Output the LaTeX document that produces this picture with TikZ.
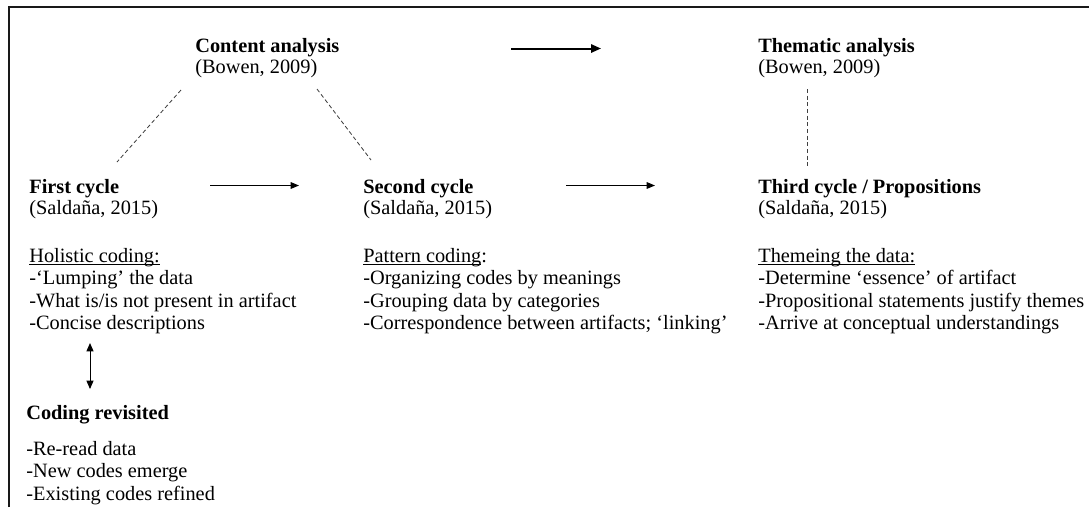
\documentclass[tikz,border=0pt]{standalone}
\usepackage{fontspec}
\setmainfont{Liberation Serif}
\usetikzlibrary{arrows.meta}
\newcommand{\lineunder}[1]{\setbox0=\hbox{#1}\rlap{\rule[-1.6pt]{\wd0}{0.5pt}}\box0}
\begin{document}
\begin{tikzpicture}[x=0.6pt,y=-0.6pt,
  txt/.style={anchor=base west, inner sep=0pt, font=\fontsize{12.2}{14}\selectfont},
  hd/.style={txt, font=\fontsize{12.2}{14}\selectfont\bfseries},
  frameline/.style={line width=1.2pt, draw=black!90},
  dashlink/.style={line width=0.5pt, draw=black!75, dash pattern=on 2.4pt off 1.6pt},
  flow/.style={line width=0.6pt, -{Triangle[length=5pt,width=4pt]}},
  bigflow/.style={line width=1.2pt, -{Triangle[length=6pt,width=5pt]}},
  twoway/.style={line width=0.6pt, {Triangle[length=5pt,width=4.2pt]}-{Triangle[length=5pt,width=4.2pt]}},
]
\useasboundingbox (0,0) rectangle (1089,507);
% frame (cut off at right and bottom)
\coordinate (fbl) at (9,507);
\coordinate (ftl) at (9,7);
\coordinate (ftr) at (1089,7);
\draw[frameline] (fbl) -- (ftl) -- (ftr);

% top row
\node[hd]  (ca)  at (195,52) {Content analysis};
\node[txt] (cab) at (195,73) {(Bowen, 2009)};
\node[hd]  (ta)  at (758,52) {Thematic analysis};
\node[txt] (tab) at (758,73) {(Bowen, 2009)};

% cycles
\node[hd]  (fc)  at (29,193) {First cycle};
\node[txt] (fcs) at (29,214) {(Saldaña, 2015)};
\node[hd]  (sc)  at (363,193) {Second cycle};
\node[txt] (scs) at (363,214) {(Saldaña, 2015)};
\node[hd]  (tc)  at (758,193) {Third cycle / Propositions};
\node[txt] (tcs) at (758,214) {(Saldaña, 2015)};

% first cycle list
\node[txt] (h0) at (29,262)   {\lineunder{Holistic coding:}};
\node[txt] (h1) at (29,284.5) {-‘Lumping’ the data};
\node[txt] (h2) at (29,307)   {-What is/is not present in artifact};
\node[txt] (h3) at (29,329.5) {-Concise descriptions};

% second cycle list
\node[txt] (p0) at (363,262)   {\lineunder{Pattern coding}:};
\node[txt] (p1) at (363,284.5) {-Organizing codes by meanings};
\node[txt] (p2) at (363,307)   {-Grouping data by categories};
\node[txt] (p3) at (363,329.5) {-Correspondence between artifacts; ‘linking’};

% third cycle list
\node[txt] (t0) at (758,262)   {\lineunder{Themeing the data:}};
\node[txt] (t1) at (758,284.5) {-Determine ‘essence’ of artifact};
\node[txt] (t2) at (758,307)   {-Propositional statements justify themes};
\node[txt] (t3) at (758,329.5) {-Arrive at conceptual understandings};

% coding revisited
\node[hd]  (cr)  at (26,419)   {Coding revisited};
\node[txt] (cr1) at (26,455)   {-Re-read data};
\node[txt] (cr2) at (26,477.5) {-New codes emerge};
\node[txt] (cr3) at (26,500)   {-Existing codes refined};

% connector end points
\coordinate (d1a) at (181,90);
\coordinate (d1b) at (117,162);
\coordinate (d2a) at (317,89);
\coordinate (d2b) at (371,160);
\coordinate (d3a) at (807,89);
\coordinate (d3b) at (807,168);
\coordinate (a0s) at (511,48.5);
\coordinate (a0e) at (601,48.5);
\coordinate (a1s) at (210,185.5);
\coordinate (a1e) at (299,185.5);
\coordinate (a2s) at (566,185.5);
\coordinate (a2e) at (655,185.5);
\coordinate (r1) at (90,343);
\coordinate (r2) at (90,389);

\draw[dashlink] (d1a) -- (d1b);
\draw[dashlink] (d2a) -- (d2b);
\draw[dashlink] (d3a) -- (d3b);
\draw[bigflow] (a0s) -- (a0e);
\draw[flow] (a1s) -- (a1e);
\draw[flow] (a2s) -- (a2e);
\draw[twoway] (r1) -- (r2);
\end{tikzpicture}
\end{document}
